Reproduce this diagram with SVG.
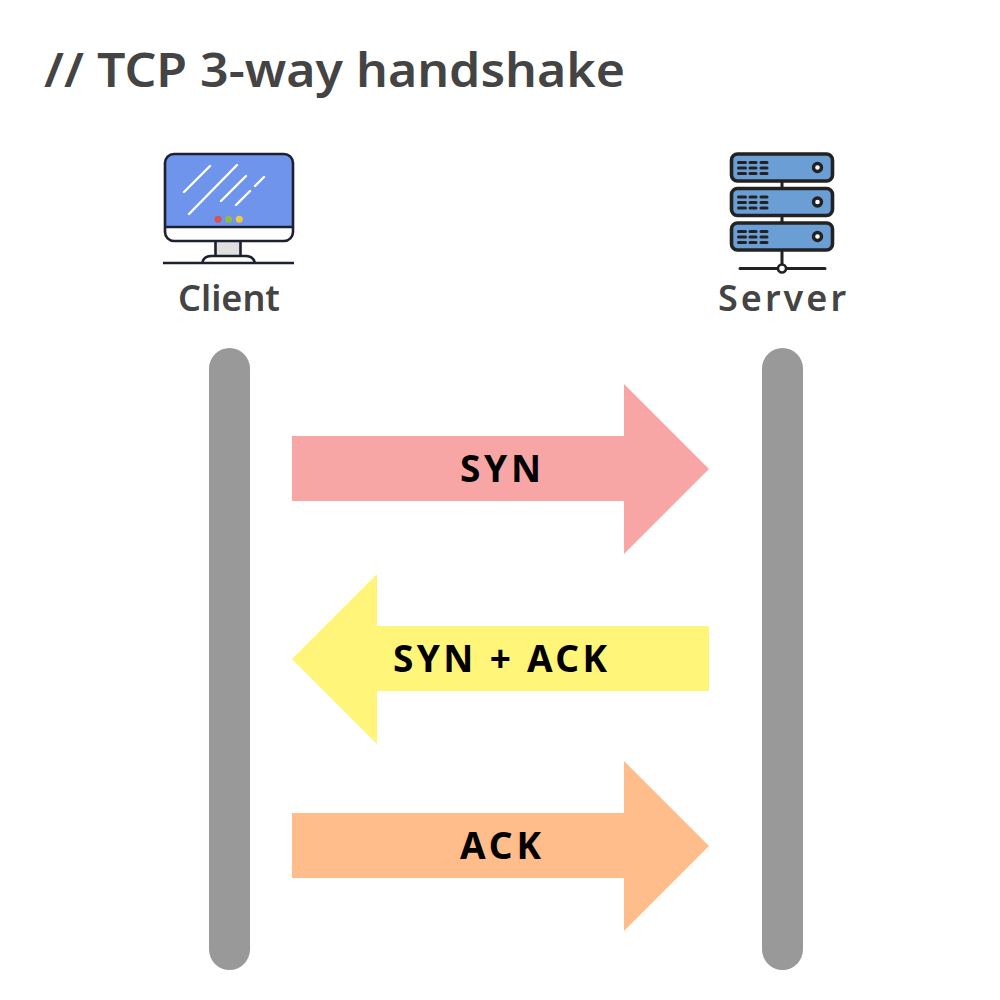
<svg xmlns="http://www.w3.org/2000/svg" width="1000" height="1000" viewBox="0 0 1000 1000">
<style>
.t{font-family:"Noto Sans","Liberation Sans",sans-serif;fill:#444;font-weight:600}
.m{font-family:"Noto Sans","Liberation Sans",sans-serif;fill:#000;font-weight:700;font-size:37px}
.life{fill:#999}
.o{stroke:#1d2030;stroke-width:2.6;fill:none}
.g{stroke:#fff;stroke-width:2.4;stroke-linecap:round}
.s{fill:#6a9ed4;stroke:#222;stroke-width:3.6}
.d{stroke:#222;stroke-width:3;stroke-linecap:round}
</style>
<defs>
<g id="unit">
<rect class="s" x="731.500" y="0" width="101" height="27" rx="6"/>
<path class="d" d="M738.500 8.500h7M750 8.500h6M761 8.500h6M738.500 14h7M750 14h6M761 14h6M738.500 19.500h7M750 19.500h6M761 19.500h6"/>
<circle cx="817.500" cy="13.500" r="4" fill="#fff" stroke="#222" stroke-width="3.400"/>
</g>
</defs>
<text id="title" class="t" x="44" y="87" font-size="46" textLength="581" lengthAdjust="spacingAndGlyphs">// TCP 3-way handshake</text>
<g id="client">
<path d="M165 227V163a9 9 0 0 1 9-9h110a9 9 0 0 1 9 9v64z" fill="#6f94ec"/>
<path d="M165 227h128v5a9 9 0 0 1-9 9H174a9 9 0 0 1-9-9z" fill="#fff"/>
<rect x="215.500" y="242" width="25" height="14" fill="#e0e0e0"/>
<rect class="o" x="165" y="154" width="128" height="87" rx="9"/>
<path class="o" d="M165 227h128M215.500 241v15M240.500 241v15M202 263c1-4 4-7 9-7h35c5 0 8 3 9 7M163 263h131"/>
<path class="g" d="M184 192l26-26M189 214l48-49M221 201l25-25M236 205l14-14M255 186l9-9"/>
<circle cx="218" cy="219.300" r="3.500" fill="#d9534f"/>
<circle cx="228.700" cy="219.300" r="3.500" fill="#8fbc45"/>
<circle cx="239.300" cy="219.300" r="3.500" fill="#eccb3c"/>
<text class="t" x="178" y="311" font-size="36" textLength="102" lengthAdjust="spacingAndGlyphs">Client</text>
</g>
<g id="server">
<path class="d" d="M782 180v8M782 215v8M782 250v17M740 268.500h85"/>
<use href="#unit" y="154"/>
<use href="#unit" y="188.500"/>
<use href="#unit" y="223"/>
<circle cx="782" cy="268.500" r="4" fill="#fff" stroke="#222" stroke-width="2.600"/>
<text class="t" x="718" y="311" font-size="36" textLength="128" lengthAdjust="spacing">Server</text>
</g>
<g id="connectors">
<rect id="client-life" class="life" x="209" y="348" width="41" height="622" rx="20.500"/>
<rect id="server-life" class="life" x="762" y="348" width="41" height="622" rx="20.500"/>
<polygon points="292,436 624,436 624,384 709,469 624,554 624,501 292,501" fill="#f8a5a6"/>
<polygon points="709,626 377,626 377,574 292,659 377,744 377,691 709,691" fill="#fff578"/>
<polygon points="292,813 624,813 624,761 709,846 624,931 624,878 292,878" fill="#febd8a"/>
<text class="m" x="460" y="482" textLength="81" lengthAdjust="spacing">SYN</text>
<text class="m" x="393" y="672" textLength="214" lengthAdjust="spacing">SYN + ACK</text>
<text class="m" x="460" y="859" textLength="81" lengthAdjust="spacing">ACK</text>
</g>
</svg>
